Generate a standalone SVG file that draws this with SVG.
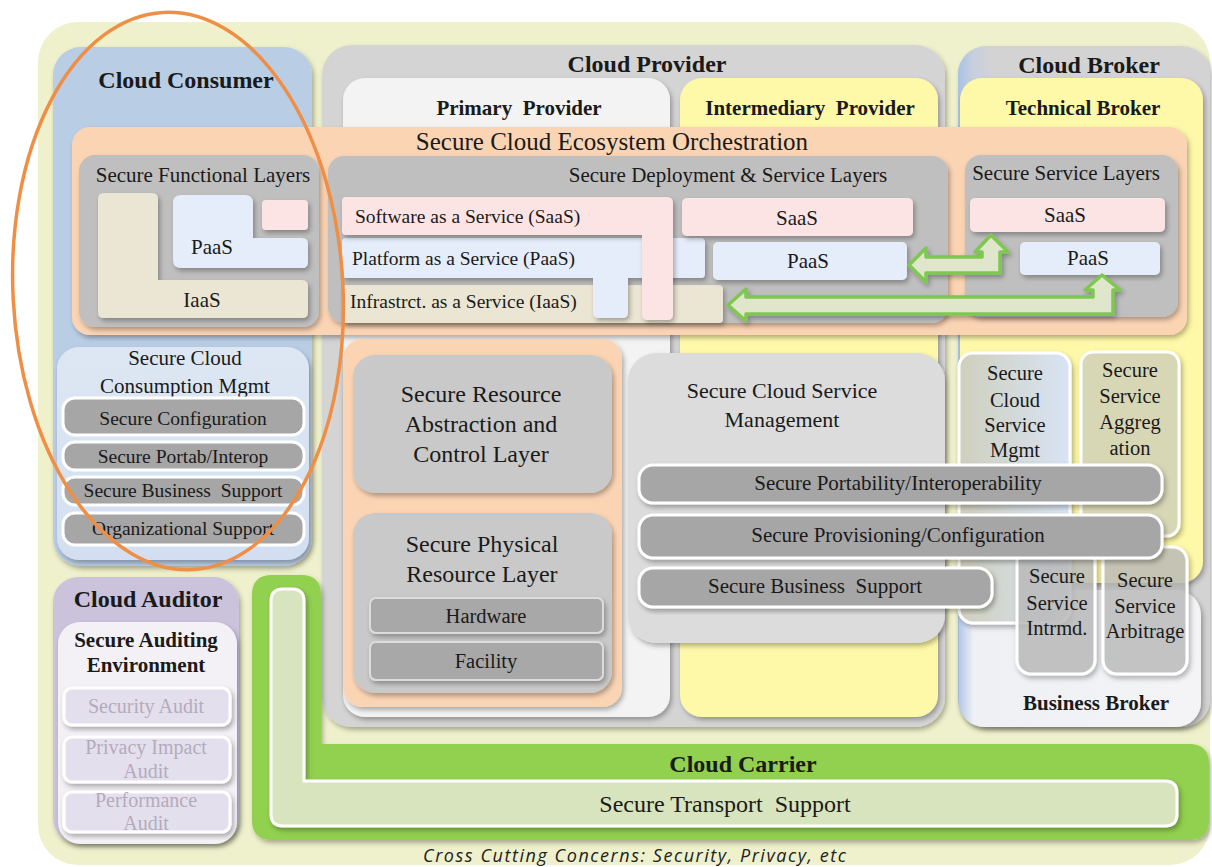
<svg xmlns="http://www.w3.org/2000/svg" width="1212" height="867" viewBox="0 0 1212 867" font-family="Liberation Serif, serif">
<defs>
<style>
text { font-family: 'Liberation Serif', 'Times New Roman', serif; fill: #1a1a1a; }
.h1 { font-size: 24px; font-weight: bold; text-anchor: middle; }
.h2 { font-size: 21px; font-weight: bold; text-anchor: middle; }
.m { text-anchor: middle; }
.f19 { font-size: 19.5px; }
.f20 { font-size: 20.5px; }
.f21 { font-size: 21px; }
.f22 { font-size: 22px; }
.f24 { font-size: 24px; }
.aud { fill: #b3abbd; font-size: 20px; text-anchor: middle; }
.s { filter: url(#sh); }
.btn { fill: #a6a6a6; stroke: #ffffff; stroke-width: 3; }
.gray { fill: #bfbfbf; }
.pink { fill: #fce4e4; }
.blue { fill: #e4edf9; }
.beige { fill: #ebe6d3; }
.peach { fill: #fbd4b4; }
.mid { fill: #c9c9c9; }
.tile { stroke: #ffffff; stroke-width: 3; }
.audbox { fill: #e4dfec; stroke: #ffffff; stroke-width: 3; }
.arrow { fill: #dfe6cc; stroke: #7ec850; stroke-width: 3.5; stroke-linejoin: round; }
.cross { font-family: 'Open Sans', 'Liberation Sans', sans-serif; font-style: italic; font-size: 18px; fill: #222; }
</style>
<filter id="sh" x="-10%" y="-10%" width="130%" height="130%">
<feDropShadow dx="2" dy="3" stdDeviation="2.5" flood-color="#000" flood-opacity="0.3"/>
</filter>
<linearGradient id="brokerGrad" x1="0" y1="0" x2="1" y2="0">
<stop offset="0" stop-color="#a8c2e6"/>
<stop offset="0.06" stop-color="#c6d0de"/>
<stop offset="0.14" stop-color="#d3d3d3"/>
<stop offset="1" stop-color="#d3d3d3"/>
</linearGradient>
<linearGradient id="bbGrad" x1="0" y1="0" x2="1" y2="0">
<stop offset="0" stop-color="#b4c8e8"/>
<stop offset="0.06" stop-color="#eef0f4"/>
<stop offset="1" stop-color="#f4f4f6"/>
</linearGradient>
<linearGradient id="mgmtGrad" x1="0" y1="0" x2="1" y2="0">
<stop offset="0" stop-color="#cfcfbd"/>
<stop offset="1" stop-color="#d8e4f5"/>
</linearGradient>
<linearGradient id="consGrad" x1="0" y1="0" x2="0" y2="1">
<stop offset="0" stop-color="#dde7f3"/>
<stop offset="1" stop-color="#d3dff0"/>
</linearGradient>
</defs>

<rect x="38" y="22" width="1172" height="843" rx="40" fill="#eff1cc"/>

<g id="cloud-consumer">
<rect class="s" x="53" y="47" width="259" height="519" rx="28" fill="#b9cde5"/>
<text class="h1" x="186" y="88">Cloud Consumer</text>
</g>

<g id="cloud-provider">
<rect class="s" x="322" y="45" width="623" height="682" rx="30" fill="#d4d4d4"/>
<text class="h1" x="647" y="72">Cloud Provider</text>
</g>

<g id="primary-provider">
<rect class="s" x="343" y="78" width="327" height="639" rx="22" fill="#f3f3f3"/>
<text class="h2" x="519" y="115" xml:space="preserve">Primary  Provider</text>
</g>

<g id="intermediary-provider">
<rect class="s" x="680" y="78" width="258" height="639" rx="22" fill="#fef9a8"/>
<text class="h2" x="810" y="115" xml:space="preserve">Intermediary  Provider</text>
</g>

<g id="cloud-broker">
<rect class="s" x="958" y="46" width="252" height="681" rx="28" fill="url(#brokerGrad)"/>
<text class="h1" x="1089" y="73">Cloud Broker</text>
</g>

<g id="technical-broker">
<rect class="s" x="960" y="78" width="243" height="505" rx="22" fill="#fef9a8"/>
<text class="h2" x="1083" y="115">Technical Broker</text>
</g>

<g id="business-broker">
<rect class="s" x="959" y="590" width="242" height="137" rx="25" fill="url(#bbGrad)"/>
<text class="h2" x="1096" y="710">Business Broker</text>
</g>

<g id="orchestration">
<rect class="s peach" x="72" y="127" width="1115" height="208" rx="18"/>
<text class="m" x="612" y="150" style="font-size:25px">Secure Cloud Ecosystem Orchestration</text>
</g>

<g id="functional-layers">
<rect class="s gray" x="79" y="155" width="240" height="172" rx="16"/>
<text class="m f21" x="203" y="182">Secure Functional Layers</text>
<path class="s beige" d="M104,193 H152 Q158,193 158,199 V280 H302 Q308,280 308,286 V312 Q308,318 302,318 H104 Q98,318 98,312 V199 Q98,193 104,193 Z"/>
<path class="s blue" d="M181,195 H245 Q253,195 253,203 V238 H302 Q308,238 308,244 V262 Q308,268 302,268 H181 Q173,268 173,260 V203 Q173,195 181,195 Z"/>
<rect class="s pink" x="262" y="200" width="46" height="30" rx="4"/>
<text class="m f21" x="212" y="254">PaaS</text>
<text class="m f21" x="202" y="307">IaaS</text>
</g>

<g id="deployment-layers">
<rect class="s gray" x="328" y="156" width="620" height="167" rx="16"/>
<text class="m f21" x="728" y="182">Secure Deployment &amp; Service Layers</text>
<rect class="s beige" x="342" y="285" width="381" height="38" rx="4"/>
<path class="s blue" d="M346,238 H701 Q705,238 705,242 V274 Q705,278 701,278 H628 V312 Q628,318 622,318 H599 Q593,318 593,312 V278 H346 Q342,278 342,274 V242 Q342,238 346,238 Z"/>
<path class="s pink" d="M346,197 H667 Q673,197 673,203 V314 Q673,320 667,320 H648 Q642,320 642,314 V235 H346 Q342,235 342,231 V201 Q342,197 346,197 Z"/>
<rect class="s pink" x="682" y="198" width="231" height="38" rx="5"/>
<rect class="s blue" x="713" y="242" width="194" height="38" rx="5"/>
<text class="f19" x="355" y="223">Software as a Service (SaaS)</text>
<text class="f19" x="352" y="265">Platform as a Service (PaaS)</text>
<text class="f19" x="350" y="308">Infrastrct. as a Service (IaaS)</text>
<text class="m f21" x="797" y="225">SaaS</text>
<text class="m f21" x="808" y="268">PaaS</text>
</g>

<g id="service-layers">
<rect class="s gray" x="965" y="155" width="213" height="162" rx="16"/>
<text class="m f21" x="1066" y="180">Secure Service Layers</text>
<rect class="s pink" x="970" y="198" width="195" height="34" rx="5"/>
<rect class="s blue" x="1020" y="242" width="140" height="33" rx="5"/>
<text class="m f21" x="1065" y="222">SaaS</text>
<text class="m f21" x="1088" y="265">PaaS</text>
</g>

<g id="connectors">
<path class="arrow s" d="M909,265 L926,248 L926,257 L982,257 L982,252 L975,252 L991,235 L1008,252 L1000,252 L1000,273 L926,273 L926,282 Z"/>
<path class="arrow s" d="M728,305 L746,289 L746,297 L1093,297 L1093,290 L1085,290 L1102,275 L1120,290 L1113,290 L1113,314 L746,314 L746,321 Z"/>
</g>

<g id="consumption-mgmt">
<rect class="s" x="57" y="347" width="252" height="213" rx="22" fill="url(#consGrad)"/>
<text class="m f21" x="185" y="365">Secure Cloud</text>
<text class="m f21" x="185" y="393">Consumption Mgmt</text>
<rect class="btn" x="63" y="398" width="241" height="37" rx="12"/>
<text class="m f19" x="183" y="425">Secure Configuration</text>
<rect class="btn" x="63" y="442" width="241" height="28" rx="12"/>
<text class="m f19" x="183" y="463">Secure Portab/Interop</text>
<rect class="btn" x="63" y="477" width="241" height="28" rx="12"/>
<text class="m f19" x="183" y="497" xml:space="preserve">Secure Business  Support</text>
<rect class="btn" x="63" y="513" width="241" height="32" rx="12"/>
<text class="m f19" x="183" y="535">Organizational Support</text>
</g>

<g id="resource-layers">
<rect class="s peach" x="343" y="339" width="279" height="368" rx="20"/>
<rect class="s mid" x="353" y="355" width="259" height="138" rx="22"/>
<text class="m f24" x="481" y="402">Secure Resource</text>
<text class="m f24" x="481" y="432">Abstraction and</text>
<text class="m f24" x="481" y="462">Control Layer</text>
<rect class="s mid" x="353" y="513" width="259" height="180" rx="22"/>
<text class="m f24" x="482" y="552">Secure Physical</text>
<text class="m f24" x="482" y="582">Resource Layer</text>
<rect class="s" x="370" y="598" width="233" height="35" rx="6" fill="#a8a8a8" stroke="#dcdcdc" stroke-width="2"/>
<text class="m f20" x="486" y="623">Hardware</text>
<rect class="s" x="370" y="642" width="233" height="38" rx="6" fill="#a8a8a8" stroke="#dcdcdc" stroke-width="2"/>
<text class="m f20" x="486" y="668">Facility</text>
</g>

<g id="broker-services">
<rect class="s tile" x="959" y="353" width="111" height="270" rx="14" fill="url(#mgmtGrad)"/>
<text class="m f20" x="1015" y="380">Secure</text>
<text class="m f20" x="1015" y="407">Cloud</text>
<text class="m f20" x="1015" y="432">Service</text>
<text class="m f20" x="1015" y="457">Mgmt</text>
<rect class="s tile" x="1081" y="352" width="98" height="184" rx="12" fill="#d7d7b6"/>
<text class="m f20" x="1130" y="377">Secure</text>
<text class="m f20" x="1130" y="403">Service</text>
<text class="m f20" x="1130" y="429">Aggreg</text>
<text class="m f20" x="1130" y="455">ation</text>
<rect class="s tile" x="1017" y="548" width="78" height="126" rx="14" fill="#bdbdbd" fill-opacity="0.8"/>
<text class="m f20" x="1057" y="583">Secure</text>
<text class="m f20" x="1057" y="610">Service</text>
<text class="m f20" x="1057" y="635">Intrmd.</text>
<rect class="s tile" x="1103" y="547" width="84" height="127" rx="14" fill="#bdbdbd" fill-opacity="0.75"/>
<text class="m f20" x="1145" y="587">Secure</text>
<text class="m f20" x="1145" y="613">Service</text>
<text class="m f20" x="1145" y="638">Arbitrage</text>
</g>

<g id="cloud-service-mgmt">
<rect class="s" x="628" y="353" width="317" height="290" rx="28" fill="#dcdcdc"/>
<text class="m f22" x="782" y="398">Secure Cloud Service</text>
<text class="m f22" x="782" y="427">Management</text>
<rect class="btn s" x="639" y="465" width="523" height="38" rx="14"/>
<text class="m f21" x="898" y="490">Secure Portability/Interoperability</text>
<rect class="btn s" x="639" y="515" width="523" height="43" rx="14"/>
<text class="m f21" x="898" y="542">Secure Provisioning/Configuration</text>
<rect class="btn s" x="639" y="568" width="353" height="39" rx="14"/>
<text class="m f21" x="815" y="593" xml:space="preserve">Secure Business  Support</text>
</g>

<g id="cloud-auditor">
<rect class="s" x="53" y="577" width="186" height="266" rx="25" fill="#cbc3dc"/>
<text class="h1" x="148" y="607">Cloud Auditor</text>
<rect class="s" x="58" y="622" width="179" height="222" rx="22" fill="#f3f1f5"/>
<text class="h2" x="146" y="647">Secure Auditing</text>
<text class="h2" x="146" y="672">Environment</text>
<rect class="audbox s" x="64" y="688" width="166" height="37" rx="8"/>
<text class="aud" x="146" y="713">Security Audit</text>
<rect class="audbox s" x="64" y="737" width="166" height="45" rx="8"/>
<text class="aud" x="146" y="754">Privacy Impact</text>
<text class="aud" x="146" y="778">Audit</text>
<rect class="audbox s" x="64" y="792" width="166" height="40" rx="8"/>
<text class="aud" x="146" y="807">Performance</text>
<text class="aud" x="146" y="830">Audit</text>
</g>

<g id="cloud-carrier">
<path class="s" fill="#92d050" d="M272,575 H301 Q321,575 321,595 V744 H1189 Q1209,744 1209,764 V820 Q1209,840 1189,840 H272 Q252,840 252,820 V595 Q252,575 272,575 Z"/>
<text class="h1" x="743" y="772">Cloud Carrier</text>
<path class="s" fill="#d7e4bd" stroke="#ffffff" stroke-width="3" d="M283,589 H292 Q304,589 304,601 V781 H1165 Q1177,781 1177,793 V814 Q1177,826 1165,826 H283 Q271,826 271,814 V601 Q271,589 283,589 Z"/>
<text class="m" x="725" y="812" style="font-size:24px" xml:space="preserve">Secure Transport  Support</text>
</g>

<g id="consumer-highlight">
<ellipse cx="178" cy="291" rx="165" ry="279" transform="rotate(-3 178 291)" fill="none" stroke="#ef8f45" stroke-width="3.5"/>
</g>

<text class="cross" x="423" y="862" textLength="423">Cross Cutting Concerns: Security, Privacy, etc</text>
</svg>
